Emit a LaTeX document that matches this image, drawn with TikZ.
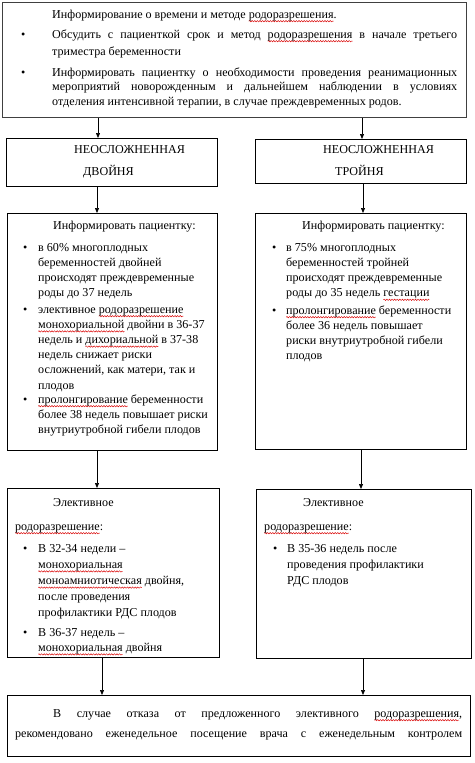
\documentclass[tikz,border=0pt]{standalone}
\usepackage{fontspec}
\setmainfont{Liberation Serif}
\usetikzlibrary{arrows.meta,decorations.pathmorphing}
\newsavebox\splbox
\newlength\splw
\newcommand\spl[1]{\leavevmode\sbox\splbox{#1}\setlength\splw{\wd\splbox}%
  \rlap{\raisebox{-3.2pt}{\pgfinterruptpicture\tikz[x=1pt,y=1pt]{\useasboundingbox (0,0) rectangle (\splw,0.1);\draw[red!85!black, line width=0.45pt, decorate, decoration={snake, amplitude=0.7pt, segment length=2.6pt}] (0,0) -- (\splw,0);}\endpgfinterruptpicture}}\usebox\splbox}
\newcommand\txt[3][15.2]{\parbox[t]{#2}{\fontsize{12.1}{#1}\selectfont #3}}
\tikzset{
  box/.style={draw=black, line width=0.8pt, inner sep=0pt, anchor=north west},
  tx/.style={inner sep=0pt, anchor=base west, font=\fontsize{12.1}{15.2}\selectfont},
  arr/.style={line width=0.7pt, -{Triangle[length=5pt,width=4pt]}}
}
\begin{document}
\begin{tikzpicture}[x=1pt,y=-1pt]
\useasboundingbox (0,0) rectangle (474,763);
% boxes
\node[box, draw=black!75, line width=1pt, minimum width=464pt, minimum height=115pt] (top) at (2,2) {};
\node[box, minimum width=211pt, minimum height=48pt] (n1) at (6,138) {};
\node[box, minimum width=211pt, minimum height=44pt] (n2) at (255,139) {};
\node[box, minimum width=210pt, minimum height=237pt] (i1) at (7,213) {};
\node[box, minimum width=211pt, minimum height=236pt] (i2) at (255,213) {};
\node[box, minimum width=212pt, minimum height=169pt] (e1) at (7,488) {};
\node[box, minimum width=215pt, minimum height=169pt] (e2) at (256,489) {};
\node[box, minimum width=463pt, minimum height=61pt] (b) at (7,695) {};
% top text
\node[tx] (t0) at (52,18) {Информирование о времени и методе \spl{родоразрешения}.};
\node[tx] (tb1) at (21,38) {\textbullet};
\node[tx] (t1) at (52,38) {\txt[17.5]{405pt}{Обсудить с пациенткой срок и метод \spl{родоразрешения} в начале третьего\linebreak триместра беременности}};
\node[tx] (tb2) at (21,76) {\textbullet};
\node[tx] (t2) at (52,76) {\txt[14.6]{405pt}{Информировать пациентку о необходимости проведения реанимационных\linebreak мероприятий новорожденным и дальнейшем наблюдении в условиях\linebreak отделения интенсивной терапии, в случае преждевременных родов.}};
% second row
\node[tx] (n1a) at (74,153) {НЕОСЛОЖНЕННАЯ};
\node[tx] (n1b) at (83,175) {ДВОЙНЯ};
\node[tx] (n2a) at (323,153) {НЕОСЛОЖНЕННАЯ};
\node[tx] (n2b) at (335,175) {ТРОЙНЯ};
% info left
\node[tx] (i1t) at (53,229) {Информировать пациентку:};
\node[tx] (i1b1) at (23,251) {\textbullet};
\node[tx] (i1x1) at (38,251) {\txt{178pt}{в 60\% многоплодных\\ беременностей двойней\\ происходят преждевременные\\ роды до 37 недель}};
\node[tx] (i1b2) at (23,313) {\textbullet};
\node[tx] (i1x2) at (38,313) {\txt{178pt}{элективное \spl{родоразрешение}\\ \spl{монохориальной} двойни в 36-37\\ недель и \spl{дихориальной} в 37-38\\ недель снижает риски\\ осложнений, как матери, так и\\ плодов}};
\node[tx] (i1b3) at (23,403) {\textbullet};
\node[tx] (i1x3) at (38,403) {\txt{178pt}{\spl{пролонгирование} беременности\\ более 38 недель повышает риски\\ внутриутробной гибели плодов}};
% info right
\node[tx] (i2t) at (302,229) {Информировать пациентку:};
\node[tx] (i2b1) at (272,251) {\textbullet};
\node[tx] (i2x1) at (286,251) {\txt{178pt}{в 75\% многоплодных\\ беременностей тройней\\ происходят преждевременные\\ роды до 35 недель \spl{гестации}}};
\node[tx] (i2b2) at (272,314) {\textbullet};
\node[tx] (i2x2) at (286,314) {\txt{178pt}{\spl{пролонгирование} беременности\\ более 36 недель повышает\\ риски внутриутробной гибели\\ плодов}};
% elective left
\node[tx] (e1t) at (53,506) {Элективное};
\node[tx] (e1s) at (15,530) {\spl{родоразрешение}:};
\node[tx] (e1b1) at (23,552) {\textbullet};
\node[tx] (e1x1) at (38,552) {\txt[16.2]{178pt}{В 32-34 недели –\\ \spl{монохориальная}\\ \spl{моноамниотическая} двойня,\\ после проведения\\ профилактики РДС плодов}};
\node[tx] (e1b2) at (23,636) {\textbullet};
\node[tx] (e1x2) at (38,636) {\txt{178pt}{В 36-37 недель –\\ \spl{монохориальная} двойня}};
% elective right
\node[tx] (e2t) at (303,506) {Элективное};
\node[tx] (e2s) at (264,530) {\spl{родоразрешение}:};
\node[tx] (e2b1) at (273,552) {\textbullet};
\node[tx] (e2x1) at (287,552) {\txt[16.2]{178pt}{В 35-36 недель после\\ проведения профилактики\\ РДС плодов}};
% bottom
\node[tx] (bt) at (15,717) {\txt[20]{447pt}{\parfillskip=0pt\hspace*{38pt}В случае отказа от предложенного элективного \spl{родоразрешения},\linebreak рекомендовано еженедельное посещение врача с еженедельным контролем}};
% arrow columns
\coordinate (c1) at (98,0);
\coordinate (c2) at (362,0);
\coordinate (c3) at (97,0);
\coordinate (c4) at (363,0);
\coordinate (c5) at (97,0);
\coordinate (c6) at (361,0);
\coordinate (c7) at (102,0);
\coordinate (c8) at (363,0);
\draw[arr] (top.south -| c1) -- (n1.north -| c1);
\draw[arr] (top.south -| c2) -- (n2.north -| c2);
\draw[arr] (n1.south -| c3) -- (i1.north -| c3);
\draw[arr] (n2.south -| c4) -- (i2.north -| c4);
\draw[arr] (i1.south -| c5) -- (e1.north -| c5);
\draw[arr] (i2.south -| c6) -- (e2.north -| c6);
\draw[arr] (e1.south -| c7) -- (b.north -| c7);
\draw[arr] (e2.south -| c8) -- (b.north -| c8);
\end{tikzpicture}
\end{document}
